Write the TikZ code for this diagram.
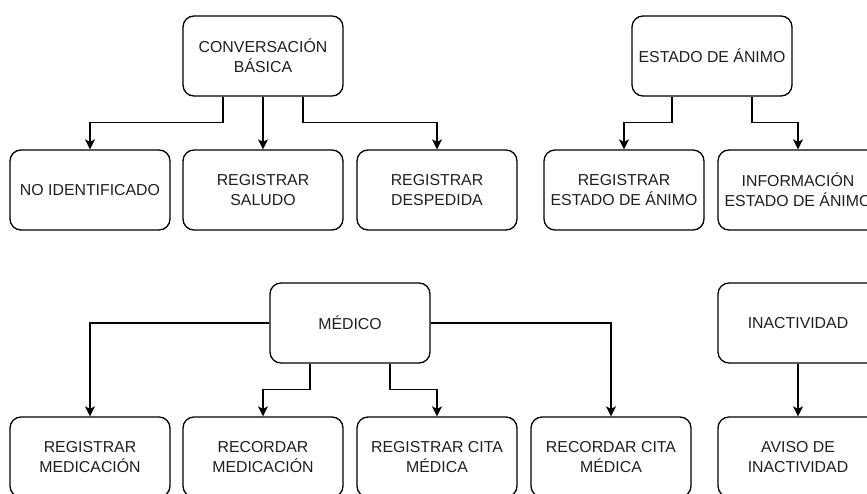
\documentclass[tikz,border=0pt]{standalone}
\usepackage{fontspec}
\setmainfont{Liberation Sans}
\usetikzlibrary{arrows.meta}
\begin{document}
\begin{tikzpicture}[x=1pt,y=-1pt,
  box/.style={draw=black, line width=1.3pt, rounded corners=11pt,
    minimum width=160pt, minimum height=80pt, inner sep=0pt, align=center,
    text=black!88, font=\fontsize{15.85pt}{19.7pt}\selectfont},
  link/.style={draw=black, line width=1.3pt,
    -{Stealth[length=10pt,width=10pt,inset=2.5pt]}}]
\useasboundingbox (0,0) rectangle (867,494);
\clip (0,0) rectangle (867,494);

% first group: conversation
\node[box] (conv) at (263,56) {CONVERSACIÓN\\BÁSICA};
\node[box] (noid) at (90,190) {NO IDENTIFICADO};
\node[box] (saludo) at (263,190) {REGISTRAR\\SALUDO};
\node[box] (despedida) at (437,190) {REGISTRAR\\DESPEDIDA};

% second group: mood
\node[box] (estado) at (712,56) {ESTADO DE ÁNIMO};
\node[box] (regestado) at (624,190) {REGISTRAR\\ESTADO DE ÁNIMO};
\node[box] (infoestado) at (798,190) {INFORMACIÓN\\ESTADO DE ÁNIMO};

% third group: medical
\node[box] (medico) at (350,323) {MÉDICO};
\node[box] (regmed) at (90,457) {REGISTRAR\\MEDICACIÓN};
\node[box] (recmed) at (263,457) {RECORDAR\\MEDICACIÓN};
\node[box] (regcita) at (437,457) {REGISTRAR CITA\\MÉDICA};
\node[box] (reccita) at (611,457) {RECORDAR CITA\\MÉDICA};

% fourth group: inactivity
\node[box] (inact) at (798,323) {INACTIVIDAD};
\node[box] (aviso) at (798,457) {AVISO DE\\INACTIVIDAD};

% connectors
\draw[link] ([xshift=-40pt]conv.south) -- ++(0,26) -| (noid.north);
\draw[link] (conv.south) -- (saludo.north);
\draw[link] ([xshift=40pt]conv.south) -- ++(0,26) -| (despedida.north);

\draw[link] ([xshift=-40pt]estado.south) -- ++(0,26) -| (regestado.north);
\draw[link] ([xshift=40pt]estado.south) -- ++(0,26) -| (infoestado.north);

\draw[link] (medico.west) -| (regmed.north);
\draw[link] ([xshift=-40pt]medico.south) -- ++(0,26) -| (recmed.north);
\draw[link] ([xshift=40pt]medico.south) -- ++(0,26) -| (regcita.north);
\draw[link] (medico.east) -| (reccita.north);

\draw[link] (inact.south) -- (aviso.north);
\end{tikzpicture}
\end{document}
